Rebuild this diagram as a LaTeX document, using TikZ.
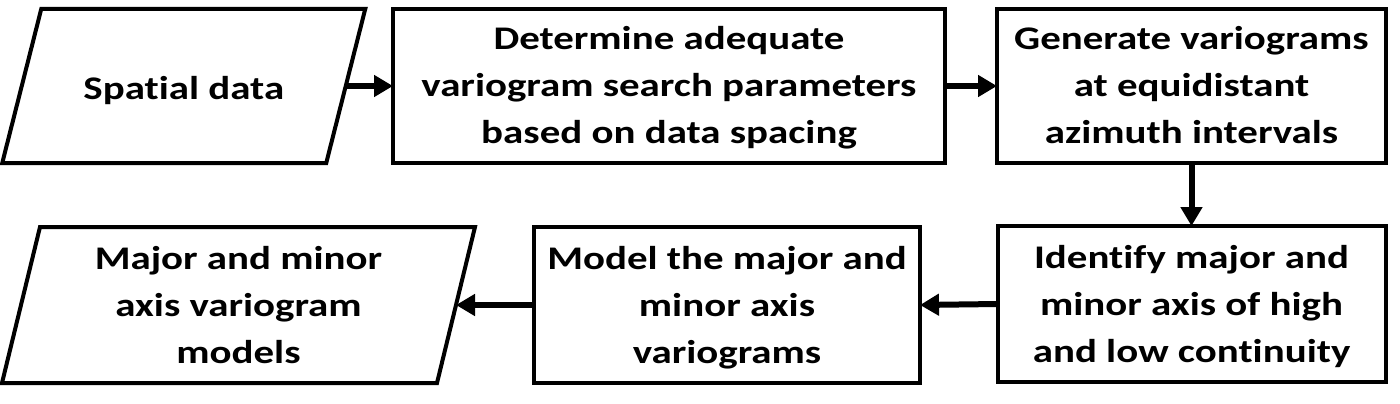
\documentclass[tikz,border=0pt]{standalone}
\usepackage{fontspec}
\setmainfont{Carlito}[FakeStretch=1.24, Ligatures=NoCommon]
\usetikzlibrary{arrows.meta}
\begin{document}
\begin{tikzpicture}[x=1pt,y=-1pt,
  outline/.style={draw=black, line width=4pt, line join=miter},
  procbox/.style={outline, rectangle, inner sep=0pt, outer sep=0pt, minimum height=154pt},
  iobox/.style={rectangle, inner sep=0pt, outer sep=0pt, minimum height=154pt},
  txt/.style={font=\bfseries\fontsize{33}{47}\selectfont, align=center, inner sep=0pt},
  flow/.style={line width=6pt, -{Triangle[length=19pt,width=21pt]}}
]
\useasboundingbox (0,0) rectangle (1400,404);
\node[iobox, minimum width=324pt] (p1) at (183.75,86) {};
\draw[outline] ([xshift=19.5pt]p1.north west) -- ([xshift=19.5pt]p1.north east)
  -- ([xshift=-19.5pt]p1.south east) -- ([xshift=-19.5pt]p1.south west) -- cycle;
\node[procbox, minimum width=552pt] (b2) at (669,86) {};
\node[procbox, minimum width=389pt] (b3) at (1191.5,86) {};
\node[procbox, minimum width=388pt, minimum height=156pt] (b4) at (1191.5,304) {};
\node[procbox, minimum width=386pt, minimum height=156pt] (b5) at (727,305) {};
\node[iobox, minimum width=435pt, minimum height=156pt] (p2) at (238.5,305) {};
\draw[outline] ([xshift=19pt]p2.north west) -- ([xshift=19pt]p2.north east)
  -- ([xshift=-19pt]p2.south east) -- ([xshift=-19pt]p2.south west) -- cycle;
\node[txt] (t1) at ([yshift=-4pt]p1.center) {\strut Spatial data\strut};
\node[txt] (t2) at ([yshift=-1pt]b2.center) {\strut Determine adequate\\variogram search parameters\\based on data spacing\strut};
\node[txt] (t3) at ([yshift=-1pt]b3.center) {\strut Generate variograms\\at equidistant\\azimuth intervals\strut};
\node[txt] (t4) at ([yshift=-2pt]b4.center) {\strut Identify major and\\minor axis of high\\and low continuity\strut};
\node[txt] (t5) at ([yshift=-2pt]b5.center) {\strut Model the major and\\minor axis\\variograms\strut};
\node[txt] (t6) at ([yshift=-2pt]p2.center) {\strut Major and minor\\axis variogram\\models\strut};
\draw[flow] (p1.east) -- (b2.west);
\draw[flow] (b2.east) -- (b3.west);
\draw[flow] (b3.south) -- (b4.north);
\draw[flow] (b4.west) -- (b5.east);
\draw[flow] (b5.west) -- (p2.east);
\end{tikzpicture}
\end{document}
